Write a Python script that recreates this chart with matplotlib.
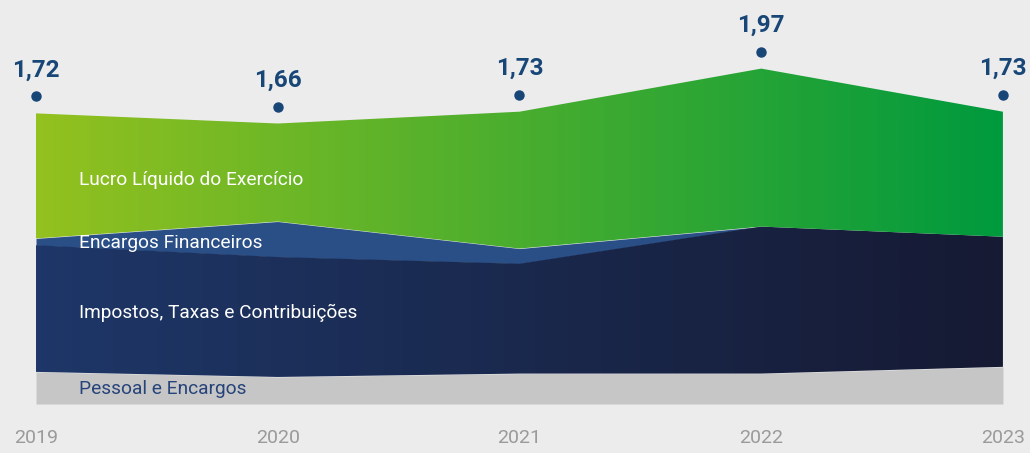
import numpy as np
import matplotlib
matplotlib.use("Agg")
import matplotlib.pyplot as plt
from matplotlib.colors import LinearSegmentedColormap

plt.rcParams['font.family'] = ['Roboto', 'DejaVu Sans']

# data
anos = [2019, 2020, 2021, 2022, 2023]
totais = ["1,72", "1,66", "1,73", "1,97", "1,73"]
pessoal = [0.19, 0.16, 0.18, 0.18, 0.22]
impostos = [0.75, 0.71, 0.65, 0.87, 0.77]
encargos = [0.04, 0.21, 0.09, 0.00, 0.00]
lucro = [0.74, 0.58, 0.81, 0.935, 0.74]

bg = '#ececec'
fig = plt.figure(figsize=(10.3, 4.53), dpi=100, facecolor=bg)
ax = fig.add_axes([0, 0, 1, 1])
ax.set_facecolor(bg)

x = np.array(anos, dtype=float)
p = np.array(pessoal)
i1 = p + np.array(impostos)
e1 = i1 + np.array(encargos)
top = e1 + np.array(lucro)


def grad_fill(y0, y1, c_left, c_right, z):
    # area filled with a horizontal gradient
    poly = ax.fill_between(x, y0, y1, color='none', lw=0)
    cmap = LinearSegmentedColormap.from_list('g', [c_left, c_right])
    g = np.linspace(0, 1, 256).reshape(1, -1)
    im = ax.imshow(g, cmap=cmap, aspect='auto', zorder=z,
                   extent=[x[0], x[-1], 0, 2.2], interpolation='bilinear')
    im.set_clip_path(poly.get_paths()[0], transform=ax.transData)


ax.fill_between(x, 0, p, color='#c6c6c6', lw=0, zorder=2)
grad_fill(p, i1, '#1e3768', '#161a33', 3)
ax.fill_between(x, i1, e1, color='#2a4f87', lw=0, zorder=2)
grad_fill(e1, top, '#93c11f', '#009a3e', 3)

# dots and totals
for xi, yi, t in zip(x, top, totais):
    ax.plot([xi], [yi + 0.10], 'o', color='#174677', ms=6.5, zorder=5)
    ax.text(xi, yi + 0.255, t, ha='center', va='center', fontsize=17.5,
            fontweight='bold', color='#174677', zorder=6)

# series labels
ax.text(2019.178, 1.325, 'Lucro Líquido do Exercício', color='white',
        fontsize=13.8, va='center', zorder=6)
ax.text(2019.178, 0.955, 'Encargos Financeiros', color='white',
        fontsize=13.8, va='center', zorder=6)
ax.text(2019.178, 0.54, 'Impostos, Taxas e Contribuições', color='white',
        fontsize=13.8, va='center', zorder=6)
ax.text(2019.178, 0.09, 'Pessoal e Encargos', color='#26437a',
        fontsize=13.8, va='center', zorder=6)

for xi in anos:
    ax.text(xi, -0.20, str(xi), ha='center', va='center', fontsize=14,
            color='#9a9a9a')

ax.set_xlim(2018.851, 2023.112)
ax.set_ylim(-0.29, 2.391)
ax.axis('off')

fig.savefig('out.png', dpi=100, facecolor=bg)
